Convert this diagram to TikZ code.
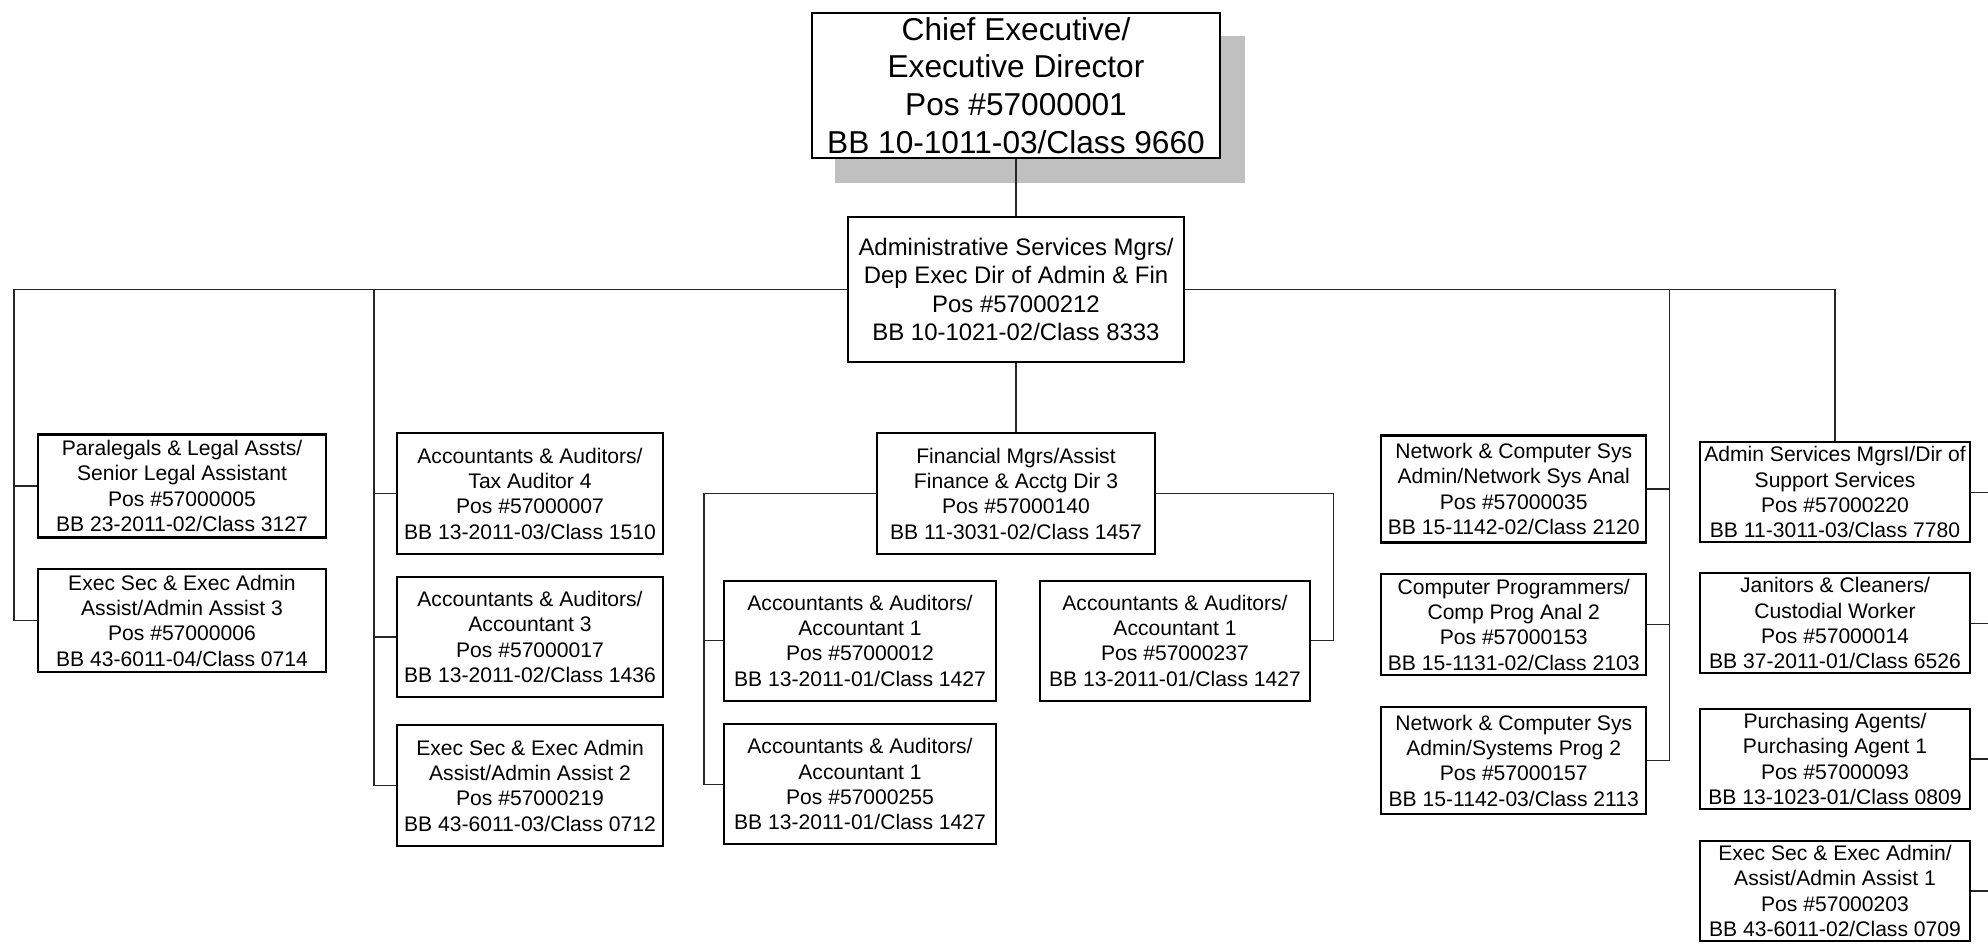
\documentclass[tikz,border=0pt]{standalone}
\usepackage{fontspec}
\setmainfont{Liberation Sans}
\usetikzlibrary{calc,backgrounds}
\definecolor{shadowgray}{RGB}{192,192,192}
\tikzset{posbox/.style={draw,line width=0.6pt,fill=white,align=center,inner sep=0pt,
    minimum width=2.7cm,minimum height=1.03cm,font=\fontsize{6}{7.2}\selectfont},
  sized/.style 2 args={minimum width=#1cm,minimum height=#2cm},
  topbox/.style={posbox,sized={4.08}{1.45},font=\fontsize{9}{10.7}\selectfont},
  mgrbox/.style={posbox,sized={3.36}{1.45},font=\fontsize{6.8}{8.1}\selectfont},
  link/.style={line width=0.45pt,black!85}}
\begin{document}
\begin{tikzpicture}[x=0.01cm,y=-0.01cm]
\useasboundingbox (0,0) rectangle (1988,952);
% top of the chart
\node[topbox] (ceo) at (1016,85.5) {Chief Executive/\\Executive Director\\Pos \#57000001\\BB 10-1011-03/Class 9660};
\begin{scope}[on background layer]
\fill[shadowgray] ($(ceo.north west)+(24,24)$) rectangle ($(ceo.south east)+(24,24)$);
\end{scope}
\node[mgrbox] (adm) at (1016,289.5) {Administrative Services Mgrs/\\Dep Exec Dir of Admin \& Fin\\Pos \#57000212\\BB 10-1021-02/Class 8333};
\draw[link] (ceo) -- (adm);
% left columns
\node[posbox,sized={2.88}{1.03}] (para) at (182,486) {Paralegals \& Legal Assts/\\Senior Legal Assistant\\Pos \#57000005\\BB 23-2011-02/Class 3127};
\node[posbox,sized={2.88}{1.03}] (exec3) at (182,620.7) {Exec Sec \& Exec Admin\\Assist/Admin Assist 3\\Pos \#57000006\\BB 43-6011-04/Class 0714};
\node[posbox,sized={2.65}{1.21}] (tax) at (530,493.7) {Accountants \& Auditors/\\Tax Auditor 4\\Pos \#57000007\\BB 13-2011-03/Class 1510};
\node[posbox,sized={2.65}{1.2}] (acc3) at (530,637) {Accountants \& Auditors/\\Accountant 3\\Pos \#57000017\\BB 13-2011-02/Class 1436};
\node[posbox,sized={2.65}{1.21}] (exec2) at (530,785.5) {Exec Sec \& Exec Admin\\Assist/Admin Assist 2\\Pos \#57000219\\BB 43-6011-03/Class 0712};
% finance
\node[posbox,sized={2.77}{1.21}] (fin) at (1016,493.7) {Financial Mgrs/Assist\\Finance \& Acctg Dir 3\\Pos \#57000140\\BB 11-3031-02/Class 1457};
\node[posbox,sized={2.71}{1.2}] (acca) at (860,640.7) {Accountants \& Auditors/\\Accountant 1\\Pos \#57000012\\BB 13-2011-01/Class 1427};
\node[posbox,sized={2.7}{1.2}] (accb) at (1175,640.7) {Accountants \& Auditors/\\Accountant 1\\Pos \#57000237\\BB 13-2011-01/Class 1427};
\node[posbox,sized={2.71}{1.2}] (accc) at (860,784.3) {Accountants \& Auditors/\\Accountant 1\\Pos \#57000255\\BB 13-2011-01/Class 1427};
% right columns
\node[posbox,sized={2.65}{1.07}] (net1) at (1513.7,489) {Network \& Computer Sys\\Admin/Network Sys Anal\\Pos \#57000035\\BB 15-1142-02/Class 2120};
\node[posbox,sized={2.65}{1.01}] (prog) at (1513.7,624.7) {Computer Programmers/\\Comp Prog Anal 2\\Pos \#57000153\\BB 15-1131-02/Class 2103};
\node[posbox,sized={2.65}{1.07}] (net2) at (1513.7,760.7) {Network \& Computer Sys\\Admin/Systems Prog 2\\Pos \#57000157\\BB 15-1142-03/Class 2113};
\node[posbox,sized={2.7}{1.0}] (svc) at (1835,492.3) {Admin Services MgrsI/Dir of\\Support Services\\Pos \#57000220\\BB 11-3011-03/Class 7780};
\node[posbox,sized={2.7}{1.0}] (jan) at (1835,623.3) {Janitors \& Cleaners/\\Custodial Worker\\Pos \#57000014\\BB 37-2011-01/Class 6526};
\node[posbox,sized={2.7}{1.0}] (pur) at (1835,759) {Purchasing Agents/\\Purchasing Agent 1\\Pos \#57000093\\BB 13-1023-01/Class 0809};
\node[posbox,sized={2.7}{1.0}] (exec1) at (1835,891) {Exec Sec \& Exec Admin/\\Assist/Admin Assist 1\\Pos \#57000203\\BB 43-6011-02/Class 0709};
% junctions
\coordinate (jL) at (14,289.5);
\coordinate (jA) at (374,289.5);
\coordinate (jN) at (1669.6,289.5);
\coordinate (jS) at (1835,289.5);
\coordinate (fL) at (704,0);
\coordinate (fR) at (1333.5,0);
\coordinate (rE) at (1988,0);
% connectors
\draw[link] (adm.west) -- (jL) |- (exec3.west);
\draw[link] (jL |- para.west) -- (para.west);
\draw[link] (jA) |- (exec2.west);
\draw[link] (jA |- tax.west) -- (tax.west);
\draw[link] (jA |- acc3.west) -- (acc3.west);
\draw[link] (adm.east) -- (jS) -- (svc.north);
\draw[link] (jN) |- (net2.east);
\draw[link] (jN |- net1.east) -- (net1.east);
\draw[link] (jN |- prog.east) -- (prog.east);
\draw[link] (adm) -- (fin);
\draw[link] (fin.west) -| (fL |- accc.west) -- (accc.west);
\draw[link] (fL |- acca.west) -- (acca.west);
\draw[link] (fin.east) -| (fR |- accb.east) -- (accb.east);
\foreach \n in {svc,jan,pur,exec1}
  \draw[link] (\n.east) -- (\n.east -| rE);
\end{tikzpicture}
\end{document}
